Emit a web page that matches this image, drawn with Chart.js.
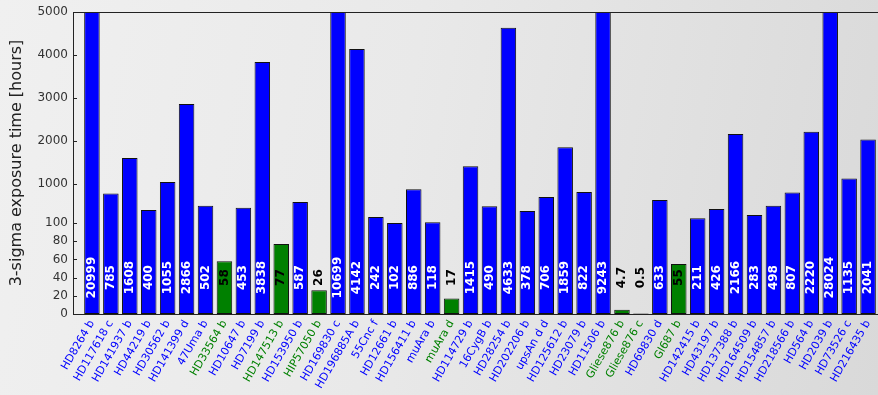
<!DOCTYPE html>
<html><head><meta charset="utf-8">
<script src="https://cdn.jsdelivr.net/npm/chart.js@4.4.0/dist/chart.umd.min.js"></script>
<style>
html,body{margin:0;padding:0;overflow:hidden;width:878px;height:395px;}
body{background:linear-gradient(100deg,#f0f0f0 0%,#e9e9e9 45%,#d9d9d9 100%);}
#wrap{position:relative;width:890px;height:395px;}
</style></head><body>
<div id="wrap"><canvas id="c"></canvas></div>
<script>
// ---- data ----
const planets = ["HD8264 b","HD117618 c","HD141937 b","HD44219 b","HD30562 b","HD141399 d","47Uma b","HD33564 b","HD10647 b","HD7199 b","HD147513 b","HD153950 b","HIP57050 b","HD169830 c","HD196885A b","55Cnc f","HD12661 b","HD156411 b","muAra b","muAra d","HD114729 b","16CygB b","HD28254 b","HD202206 b","upsAn d d","HD125612 b","HD23079 b","HD11506 b","Gliese876 b","Gliese876 c","HD69830 d","Gl687 b","HD142415 b","HD43197 b","HD137388 b","HD164509 b","HD154857 b","HD218566 b","HD564 b","HD2039 b","HD73526 c","HD216435 b"];
const hours = [20999,785,1608,400,1055,2866,502,58,453,3838,77,587,26,10699,4142,242,102,886,118,17,1415,490,4633,378,706,1859,822,9243,4.7,0.5,633,55,211,426,2166,283,498,807,2220,28024,1135,2041];
const group = ["A","A","A","A","A","A","A","B","A","A","B","A","B","A","A","A","A","A","A","B","A","A","A","A","A","A","A","A","B","B","A","B","A","A","A","A","A","A","A","A","A","A"];
const yTicks = [0,20,40,60,80,100,1000,2000,3000,4000,5000];

// ---- styles ----
const fillFor = {A:'#0000ff', B:'#008000'};
const textFor = {A:'#ffffff', B:'#000000'};
const BREAK = 100;          // value where the y-axis changes scale
const BREAK_FRAC = 91/302;  // fraction of axis height used by 0..BREAK
const LABEL_LEVEL = 40;     // value at which bar labels are centred

class BrokenLinearScale extends Chart.LinearScale {
  buildTicks() { return yTicks.map(v => ({value: v})); }
  getPixelForValue(v) {
    const h = this.bottom - this.top;
    if (v <= BREAK) return this.bottom - (v / BREAK) * BREAK_FRAC * h;
    return this.bottom - BREAK_FRAC * h - ((v - BREAK) / (this.max - BREAK)) * (1 - BREAK_FRAC) * h;
  }
  getValueForPixel(p) {
    const h = this.bottom - this.top;
    const d = this.bottom - p;
    if (d <= BREAK_FRAC * h) return d / (BREAK_FRAC * h) * BREAK;
    return BREAK + (d - BREAK_FRAC * h) / ((1 - BREAK_FRAC) * h) * (this.max - BREAK);
  }
}
BrokenLinearScale.id = 'brokenLinear';
BrokenLinearScale.defaults = Chart.LinearScale.defaults;
Chart.register(BrokenLinearScale);

const overlay = {
  id: 'overlay',
  afterDatasetsDraw(chart) {
    const {ctx, chartArea: a, scales: {y}} = chart;
    ctx.save();
    const meta = chart.getDatasetMeta(0);
    ctx.font = 'bold 12px "DejaVu Sans"';
    ctx.textAlign = 'center';
    ctx.textBaseline = 'middle';
    const ly = y.getPixelForValue(LABEL_LEVEL);
    meta.data.forEach((bar, i) => {
      ctx.save();
      ctx.translate(bar.x, ly);
      ctx.rotate(-Math.PI / 2);
      ctx.fillStyle = textFor[group[i]];
      ctx.fillText(String(hours[i]), 0, 0);
      ctx.restore();
    });
    ctx.strokeStyle = '#222';
    ctx.lineWidth = 1;
    ctx.strokeRect(Math.round(a.left) + 0.5, Math.round(a.top) + 0.5, Math.round(a.right - a.left) - 1, Math.round(a.bottom - a.top));
    ctx.beginPath();
    y.ticks.forEach(t => {
      const py = Math.round(y.getPixelForValue(t.value)) + 0.5;
      ctx.moveTo(a.left, py); ctx.lineTo(a.left + 4, py);
      ctx.moveTo(a.right, py); ctx.lineTo(a.right - 4, py);
    });
    ctx.stroke();
    ctx.restore();
  }
};

new Chart(document.getElementById('c'), {
  type: 'bar',
  data: {
    datasets: [{
      data: hours.map((v, i) => ({x: i, y: v})),
      backgroundColor: group.map(g => fillFor[g]),
      borderColor: '#111',
      borderWidth: 1,
      borderSkipped: false,
      barPercentage: 0.82,
      categoryPercentage: 1
    }]
  },
  options: {
    responsive: true,
    maintainAspectRatio: false,
    animation: false,
    layout: {padding: {left: 0, right: 3, top: 12, bottom: 0}},
    plugins: {legend: {display: false}, tooltip: {enabled: false}},
    scales: {
      x: {
        type: 'linear', min: -1, max: 42, offset: false,
        grid: {display: false, drawTicks: false, offset: false},
        border: {display: false},
        afterBuildTicks(s) { s.ticks = planets.map((_, i) => ({value: i})); },
        afterFit(s) { s.height = 81; s.paddingLeft = 0; s.paddingRight = 0; },
        ticks: {
          autoSkip: false, maxRotation: 60, minRotation: 60, padding: 4,
          font: {family: 'DejaVu Sans', size: 11},
          color: ctx => fillFor[group[ctx.index]],
          callback: v => planets[v]
        }
      },
      y: {
        type: 'brokenLinear', min: 0, max: 5000,
        grid: {display: false, drawTicks: false},
        border: {display: false},
        afterFit(s) { s.width = 73; s.paddingTop = 0; s.paddingBottom = 0; },
        ticks: {
          autoSkip: false, padding: 5,
          font: {family: 'DejaVu Sans', size: 12},
          color: '#333',
          callback: v => String(v)
        },
        title: {
          display: true, text: '3-sigma exposure time [hours]',
          font: {family: 'DejaVu Sans', size: 16}, color: '#222',
          padding: {top: 7, bottom: 0}
        }
      }
    }
  },
  plugins: [overlay]
});
</script>
</body></html>
